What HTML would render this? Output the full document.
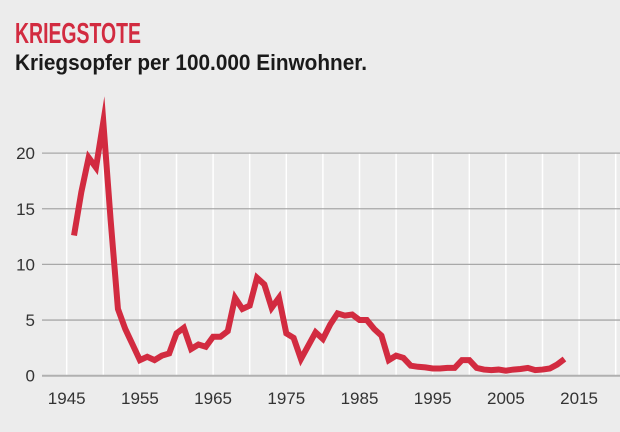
<!DOCTYPE html>
<html><head><meta charset="utf-8"><style>
body{margin:0;background:#ececec;}
svg{display:block;font-family:"Liberation Sans",sans-serif;}
</style></head><body>
<svg width="620" height="432" viewBox="0 0 620 432">
<rect width="620" height="432" fill="#ececec"/>
<text x="15" y="43" font-size="29" font-weight="bold" fill="#d22b40" textLength="126" lengthAdjust="spacingAndGlyphs">KRIEGSTOTE</text>
<text x="15" y="70" font-size="22" font-weight="bold" fill="#1a1a1a" textLength="352" lengthAdjust="spacingAndGlyphs">Kriegsopfer per 100.000 Einwohner.</text>
<g id="grid"></g>
<g id="axes"></g>
<g id="series"></g>
</svg>
<script>
const years=[1946,1947,1948,1949,1950,1951,1952,1953,1954,1955,1956,1957,1958,1959,1960,1961,1962,1963,1964,1965,1966,1967,1968,1969,1970,1971,1972,1973,1974,1975,1976,1977,1978,1979,1980,1981,1982,1983,1984,1985,1986,1987,1988,1989,1990,1991,1992,1993,1994,1995,1996,1997,1998,1999,2000,2001,2002,2003,2004,2005,2006,2007,2008,2009,2010,2011,2012,2013];
const deaths=[12.6,16.5,19.6,18.7,22.8,14.0,6.0,4.2,2.8,1.4,1.7,1.4,1.8,2.0,3.8,4.3,2.4,2.8,2.6,3.5,3.5,4.0,7.0,6.0,6.3,8.8,8.2,6.1,7.0,3.8,3.4,1.5,2.7,3.9,3.3,4.6,5.6,5.4,5.5,5.0,5.0,4.2,3.6,1.4,1.8,1.6,0.9,0.8,0.75,0.65,0.65,0.7,0.7,1.4,1.4,0.7,0.55,0.5,0.55,0.45,0.55,0.6,0.7,0.5,0.55,0.65,1.0,1.5];
const yTicks=[0,5,10,15,20];
const xTicks=[1945,1955,1965,1975,1985,1995,2005,2015];
const xGrid=[1945,1950,1955,1960,1965,1970,1975,1980,1985,1990,1995,2000,2005,2010,2015,2020];
const NS='http://www.w3.org/2000/svg';
function x(yr){return 66.7+(yr-1945)*7.32;}
function y(v){return 375.7-v*11.13;}
const grid=document.getElementById('grid'),axes=document.getElementById('axes'),series=document.getElementById('series');
xGrid.forEach(t=>{const l=document.createElementNS(NS,'line');


l.setAttribute('x1',x(t));l.setAttribute('x2',x(t));l.setAttribute('y1',y(0));l.setAttribute('y2',y(20));
l.setAttribute('stroke','#ffffff');l.setAttribute('stroke-width','1.5');grid.appendChild(l);});
yTicks.forEach(t=>{const l=document.createElementNS(NS,'line');


l.setAttribute('x1',42);l.setAttribute('x2',620);l.setAttribute('y1',y(t));l.setAttribute('y2',y(t));
l.setAttribute('stroke',t===0?'#b0b0b0':'#a8a8a8');l.setAttribute('stroke-width',t===0?'2':'1.3');grid.appendChild(l);
const tx=document.createElementNS(NS,'text');


tx.setAttribute('x',35);tx.setAttribute('y',y(t)+6);tx.setAttribute('text-anchor','end');
tx.setAttribute('font-size','17');tx.setAttribute('fill','#333');tx.textContent=t;axes.appendChild(tx);});
xTicks.forEach(t=>{const tx=document.createElementNS(NS,'text');


tx.setAttribute('x',x(t));tx.setAttribute('y',404);tx.setAttribute('text-anchor','middle');
tx.setAttribute('font-size','17');tx.setAttribute('fill','#333');tx.textContent=t;axes.appendChild(tx);});
const p=document.createElementNS(NS,'polyline');


p.setAttribute('points',years.map((yr,i)=>x(yr)+','+y(deaths[i])).join(' '));
p.setAttribute('fill','none');p.setAttribute('stroke','#d22b40');p.setAttribute('stroke-width','6');
p.setAttribute('stroke-linejoin','miter');p.setAttribute('stroke-miterlimit','10');
series.appendChild(p);
</script>
</body></html>
